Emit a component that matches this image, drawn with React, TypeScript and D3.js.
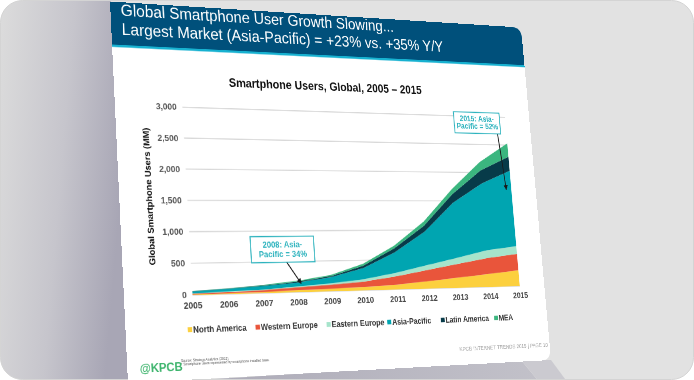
import React, { useMemo } from "react";
import * as d3 from "d3";

// ---------- data ----------
const years = [2005, 2006, 2007, 2008, 2009, 2010, 2011, 2012, 2013, 2014, 2015];
const northAmerica = [8, 12, 18, 32, 42, 55, 80, 125, 175, 225, 275];
const westernEurope = [14, 22, 32, 48, 65, 90, 140, 190, 235, 275, 290];
const easternEurope = [4, 6, 9, 14, 22, 40, 58, 82, 105, 135, 135];
const asiaPacific = [32, 42, 55, 64, 102, 186, 345, 570, 950, 1170, 1340];
const latinAmerica = [4, 6, 9, 14, 18, 38, 68, 104, 150, 230, 250];
const mea = [4, 6, 9, 14, 18, 33, 45, 70, 90, 150, 240];

const seriesNames = ["North America", "Western Europe", "Eastern Europe", "Asia-Pacific", "Latin America", "MEA"];
const seriesValues = [northAmerica, westernEurope, easternEurope, asiaPacific, latinAmerica, mea];
const seriesColors = ["#fcd03e", "#e9553b", "#a6e4cb", "#00a5b1", "#073b49", "#3bb67f"];
const yTicks = [0, 500, 1000, 1500, 2000, 2500, 3000];

const titleLines = ["Global Smartphone User Growth Slowing...", "Largest Market (Asia-Pacific) = +23% vs. +35% Y/Y"];
const chartTitle = "Smartphone Users, Global, 2005 \u2013 2015";
const yAxisTitle = "Global Smartphone Users (MM)";
const note1 = ["2008: Asia-", "Pacific = 34%"];
const note2 = ["2015: Asia-", "Pacific = 52%"];
const note1Target = [2008.1, 140];
const note2Target = [2014.83, 1700];

// ---------- layout (flat slide + projection onto the photo) ----------
const W = 720, H = 540;
const slideCorners: number[][] = [[110, 1.5], [521, 27.5], [551, 360], [128, 383]];
const A = {
  bandL: [111, 41], bandR: [522, 68],
  title1: [121, 16], title2: [122, 35],
  chartTitle: [229, 87],
  yLabel: [152, 196],
  p00: [193, 294], p10: [520, 287], p01: [181.7, 104.3], p11: [505, 120],
  legend: [[190, 330], [257.7, 326], [328.7, 324.3], [389.3, 321.7], [442.7, 320], [496, 317.3]],
  footer: [548, 347],
  logo: [140, 373],
  source: [181, 362],
  box1: [[250, 236.7], [315, 261.7]],
  box2: [[453.3, 111.7], [500.7, 134]],
};

function solve(M0: number[][], b: number[]) {
  const n = b.length;
  const M = M0.map((r, i) => [...r, b[i]]);
  for (let c = 0; c < n; c++) {
    let p = c;
    for (let r = c + 1; r < n; r++) if (Math.abs(M[r][c]) > Math.abs(M[p][c])) p = r;
    [M[c], M[p]] = [M[p], M[c]];
    for (let r = 0; r < n; r++) {
      if (r === c) continue;
      const f = M[r][c] / M[c][c];
      for (let k = c; k <= n; k++) M[r][k] -= f * M[c][k];
    }
  }
  return M.map((r, i) => r[n] / r[i]);
}
function homography(src: number[][], dst: number[][]) {
  const M: number[][] = [], b: number[] = [];
  for (let i = 0; i < 4; i++) {
    const [x, y] = src[i], [u, v] = dst[i];
    M.push([x, y, 1, 0, 0, 0, -u * x, -u * y]); b.push(u);
    M.push([0, 0, 0, x, y, 1, -v * x, -v * y]); b.push(v);
  }
  return solve(M, b);
}
function inv3(m: number[]) {
  const [a, b, c, d, e, f, g, h, i] = m;
  const A1 = e * i - f * h, B1 = -(d * i - f * g), C1 = d * h - e * g;
  const det = a * A1 + b * B1 + c * C1;
  return [A1, -(b * i - c * h), b * f - c * e, B1, a * i - c * g, -(a * f - c * d), C1, -(a * h - b * g), a * e - b * d].map((v) => v / det);
}

export default function App() {
  const L = useMemo(() => {
    const h = homography([[0, 0], [W, 0], [W, H], [0, H]], slideCorners);
    const Hi = inv3([h[0], h[1], h[2], h[3], h[4], h[5], h[6], h[7], 1]);
    const f = (p: number[]) => {
      const x = Hi[0] * p[0] + Hi[1] * p[1] + Hi[2];
      const y = Hi[3] * p[0] + Hi[4] * p[1] + Hi[5];
      const w = Hi[6] * p[0] + Hi[7] * p[1] + Hi[8];
      return [x / w, y / w];
    };
    const matrix = `matrix3d(${h[0]},${h[3]},0,${h[6]},${h[1]},${h[4]},0,${h[7]},0,0,1,0,${h[2]},${h[5]},0,1)`;
    const p00 = f(A.p00), p10 = f(A.p10), p01 = f(A.p01), p11 = f(A.p11);
    const plotLeft = (p00[0] + p01[0]) / 2, plotRight = (p10[0] + p11[0]) / 2;
    const plotBottom = (p00[1] + p10[1]) / 2, plotTop = (p01[1] + p11[1]) / 2;
    const bandY = (f(A.bandL)[1] + f(A.bandR)[1]) / 2;
    const legendPts = A.legend.map(f);
    const legendY = d3.mean(legendPts, (p) => p[1]) as number;
    return {
      matrix, plotLeft, plotRight, plotBottom, plotTop, bandY,
      title1: f(A.title1), title2: f(A.title2), chartTitle: f(A.chartTitle), yLabel: f(A.yLabel),
      legendX: legendPts.map((p) => p[0]), legendY,
      footer: f(A.footer), logo: f(A.logo), source: f(A.source),
      box1: A.box1.map(f), box2: A.box2.map(f),
    };
  }, []);

  const x = d3.scaleLinear().domain([2005, 2015]).range([L.plotLeft, L.plotRight]);
  const y = d3.scaleLinear().domain([0, 3000]).range([L.plotBottom, L.plotTop]);
  const table = years.map((yr, i) => {
    const row: any = { year: yr };
    seriesNames.forEach((n, k) => (row[n] = seriesValues[k][i]));
    return row;
  });
  const stacked = d3.stack<any>().keys(seriesNames)(table);
  const area = d3.area<any>().x((d) => x(d.data.year)).y0((d) => y(d[0])).y1((d) => y(d[1])).curve(d3.curveLinear);

  const r = 18;
  const slidePath = `M0,0H${W - r}Q${W},0 ${W},${r}V${H - r}Q${W},${H} ${W - r},${H}H0Z`;
  const bandPath = `M0,0H${W - r}Q${W},0 ${W},${r}V${L.bandY}H0Z`;
  const font = "'Liberation Sans', Arial, Helvetica, sans-serif";
  const teal = "#2bb2bd";

  const box = (b: number[][], lines: string[], target: number[], startFrac: number, key: string) => {
    const [p0, p1] = b;
    const bw = p1[0] - p0[0], bh = p1[1] - p0[1];
    const cx = p0[0] + bw / 2;
    return (
      <g key={key}>
        <line x1={p0[0] + bw * startFrac} y1={p1[1]} x2={x(target[0])} y2={y(target[1])} stroke="#1a1a1a" strokeWidth={1.6} markerEnd="url(#ah)" />
        <rect x={p0[0]} y={p0[1]} width={bw} height={bh} fill="#fff" stroke={teal} strokeWidth={1.6} />
        {lines.map((t, i) => (
          <text key={i} x={cx} y={p0[1] + bh * (i === 0 ? 0.42 : 0.8)} textAnchor="middle" fontSize={12.5} fontWeight={700} fill={teal} fontFamily={font}>{t}</text>
        ))}
      </g>
    );
  };

  return (
    <div style={{ position: "fixed", left: 0, top: 0, width: 694, height: 380, overflow: "hidden", background: "#fff" }}>
      <svg width={694} height={380} style={{ position: "absolute", left: 0, top: 0 }}>
        <defs>
          <linearGradient id="lsh" x1="0" y1="0" x2="1" y2="0.25">
            <stop offset="0" stopColor="#dcdcdc" />
            <stop offset="0.55" stopColor="#c6c5cc" />
            <stop offset="1" stopColor="#a8a6b5" />
          </linearGradient>
          <linearGradient id="bsh" x1="0" y1="0" x2="1" y2="0">
            <stop offset="0" stopColor="#a9a7b5" />
            <stop offset="1" stopColor="#c2c1c9" />
          </linearGradient>
          <clipPath id="frame"><rect x={0.5} y={0.5} width={693} height={379} rx={22} /></clipPath>
        </defs>
        <g clipPath="url(#frame)">
          <rect width={694} height={380} fill="#e2e2e2" />
          <polygon points="0,0 111,0 129,383 0,383" fill="url(#lsh)" />
          <polygon points="150,383 521,360 540,383" fill="url(#bsh)" />
          <polygon points="521,360 551,360 568,383 540,383" fill="#cbcad0" />
        </g>
        <rect x={0.5} y={0.5} width={693} height={379} rx={22} fill="none" stroke="#d4d4d4" />
      </svg>
      <div style={{ position: "absolute", left: 0, top: 0, width: W, height: H, transformOrigin: "0 0", transform: L.matrix }}>
        <svg width={W} height={H} style={{ display: "block" }}>
          <defs>
            <marker id="ah" viewBox="0 0 10 10" refX={9} refY={5} markerWidth={5} markerHeight={5} orient="auto">
              <path d="M0,0L10,5L0,10z" fill="#1a1a1a" />
            </marker>
          </defs>
          <path d={slidePath} fill="#fff" />
          <path d={bandPath} fill="#00507b" />
          <rect x={0} y={L.bandY} width={W} height={3.5} fill="#17b1d0" />
          <text x={L.title1[0]} y={L.title1[1]} fontSize={24} fill="#fff" fontFamily={font}>{titleLines[0]}</text>
          <text x={L.title2[0]} y={L.title2[1]} fontSize={24} fill="#fff" fontFamily={font}>{titleLines[1]}</text>
          <text x={L.chartTitle[0]} y={L.chartTitle[1]} fontSize={18} fontWeight={700} fill="#111" fontFamily={font}>{chartTitle}</text>

          {yTicks.map((t) => (
            <line key={t} x1={L.plotLeft} x2={L.plotRight} y1={y(t)} y2={y(t)} stroke="#d9d9d9" strokeWidth={1.6} />
          ))}
          {stacked.map((s, i) => (
            <path key={s.key} d={area(s) as string} fill={seriesColors[i]} />
          ))}
          {yTicks.map((t) => (
            <text key={t} x={L.plotLeft - 9} y={y(t) + 4.5} textAnchor="end" fontSize={13} fontWeight={700} fill="#555" fontFamily={font}>{d3.format(",")(t)}</text>
          ))}
          {years.map((yr) => (
            <text key={yr} x={x(yr)} y={L.plotBottom + 19} textAnchor="middle" fontSize={13} fontWeight={700} fill="#444" fontFamily={font}>{yr}</text>
          ))}
          <text transform={`translate(${L.yLabel[0]},${L.yLabel[1]}) rotate(-90)`} textAnchor="middle" fontSize={13.2} fontWeight={700} fill="#111" fontFamily={font}>{yAxisTitle}</text>

          {seriesNames.map((n, i) => (
            <g key={n}>
              <rect x={L.legendX[i] - 3.5} y={L.legendY - 3} width={7} height={7} fill={seriesColors[i]} />
              <text x={L.legendX[i] + 5} y={L.legendY + 4.5} fontSize={12.3} fontWeight={700} fill="#333" fontFamily={font}>{n}</text>
            </g>
          ))}

          {box(L.box1, note1, note1Target, 0.55, "b1")}
          {box(L.box2, note2, note2Target, 0.93, "b2")}

          <text x={L.footer[0]} y={L.footer[1]} textAnchor="end" fontSize={8.5} fill="#a5a5a5" fontFamily={font}>KPCB INTERNET TRENDS 2015  |  PAGE 10</text>
          <text x={L.logo[0]} y={L.logo[1]} fontSize={17} fontWeight={700} fill="#3cb46c" fontFamily={font}>@KPCB</text>
          <text x={L.source[0]} y={L.source[1]} fontSize={5} fill="#555" fontFamily={font}>Source: Strategy Analytics (2015).</text>
          <text x={L.source[0]} y={L.source[1] + 5} fontSize={5} fill="#555" fontFamily={font}>* Smartphone users represented by smartphone installed base.</text>
        </svg>
      </div>
    </div>
  );
}
